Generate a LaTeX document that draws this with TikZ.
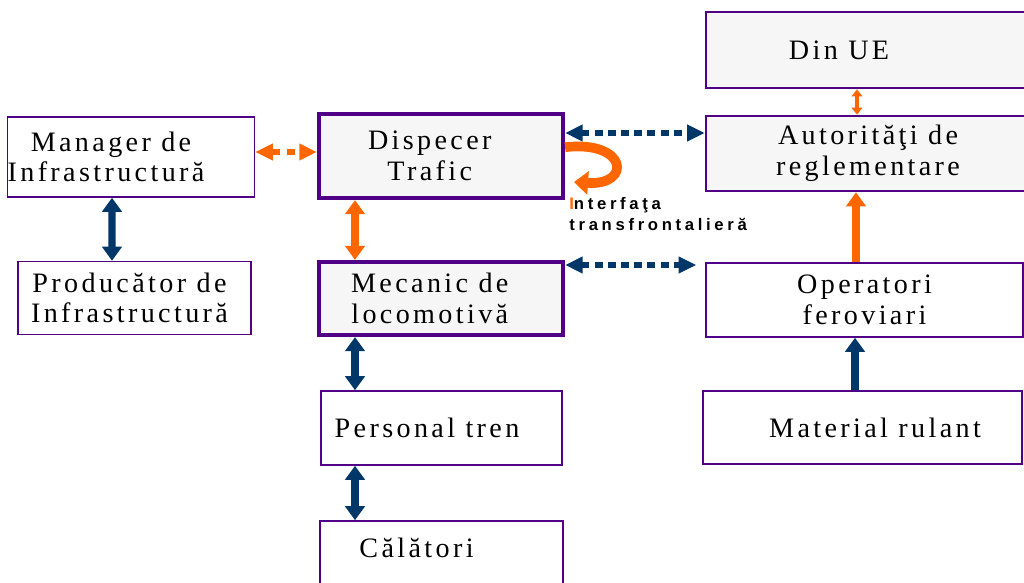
\documentclass[tikz,border=0pt]{standalone}
\usepackage{fontspec}
\setmainfont{Liberation Serif}[LetterSpace=12]
\newfontfamily\ifacefont{Liberation Sans}[LetterSpace=22]
\usetikzlibrary{arrows.meta}

\definecolor{boxpurple}{RGB}{80,0,135}
\definecolor{boxgray}{RGB}{246,246,246}
\definecolor{arrnavy}{RGB}{0,55,105}
\definecolor{arrorange}{RGB}{255,102,0}

\tikzset{
  box/.style={draw=boxpurple, line width=0.9pt, fill=white, rectangle, align=center,
    inner sep=0pt, font=\fontsize{16}{17.5}\selectfont},
  boldbox/.style={box, line width=2.4pt, fill=boxgray},
  greybox/.style={box, line width=1.5pt, fill=boxgray},
  bigarrow/.style={line width=4pt, {Triangle[width=11pt,length=8pt]}-{Triangle[width=11pt,length=8pt]}},
  uparrow/.style={line width=4pt, -{Triangle[width=11pt,length=8pt]}},
  dotarrow/.style={line width=3.2pt, dash pattern=on 4.5pt off 3pt,
    {Triangle[width=9pt,length=10pt]}-{Triangle[width=9pt,length=10pt]}},
}

\begin{document}
\begin{tikzpicture}[x=0.02cm, y=-0.02cm]
\clip (0,0) rectangle (1024,582);
\fill[white] (0,0) rectangle (1024,582);

% left column
\node[box, minimum width=4.92cm, minimum height=1.6cm] (mgr) at (131,157) {Manager de\hspace*{0.8cm}\\Infrastructură\hspace*{1cm}};
\node[box, minimum width=4.66cm, minimum height=1.46cm] (prod) at (134.5,298) {Producător de\hspace*{0.2cm}\\Infrastructură\hspace*{0.2cm}};

% middle column
\node[boldbox, minimum width=4.88cm, minimum height=1.68cm] (disp) at (441,156) {Dispecer\hspace*{0.45cm}\\Trafic\hspace*{0.45cm}};
\node[boldbox, minimum width=4.88cm, minimum height=1.46cm] (mec) at (441,298.5) {Mecanic de\hspace*{0.45cm}\\locomotivă\hspace*{0.45cm}};
\node[box, minimum width=4.82cm, minimum height=1.48cm] (pers) at (441.5,428) {Personal tren\hspace*{0.58cm}};
\node[box, minimum width=4.86cm, minimum height=1.6cm, text depth=0.55cm] (cal) at (441.5,561) {Călători\hspace*{1cm}};

% right column
\node[greybox, minimum width=6.48cm, minimum height=1.52cm] (ue) at (868,50) {Din UE\hspace*{1.16cm}};
\node[greybox, minimum width=6.48cm, minimum height=1.5cm] (aut) at (868,153.5) {Autorităţi de\\reglementare};
\node[box, minimum width=6.34cm, minimum height=1.48cm] (op) at (864.5,300) {Operatori\\feroviari};
\node[box, minimum width=6.38cm, minimum height=1.46cm] (mat) at (862.5,427.5) {\hspace*{0.5cm}Material rulant};

% links
\draw[dotarrow, arrorange, dash pattern=on 4.5pt off 4.5pt] (mgr.east |- 0,152) -- (disp.west |- 0,152);
\draw[bigarrow, arrnavy] ([xshift=-0.38cm]mgr.south) -- ([xshift=-0.45cm]prod.north);
\draw[bigarrow, arrorange] (disp.south -| 355,0) -- (mec.north -| 355,0);
\draw[bigarrow, arrnavy] (mec.south -| 355,0) -- (pers.north -| 355,0);
\draw[bigarrow, arrnavy] (pers.south -| 355,0) -- (cal.north -| 355,0);
\draw[dotarrow, arrnavy] (disp.east |- 0,133) -- (aut.west |- 0,133);
\draw[dotarrow, arrnavy] (mec.east |- 0,265) -- ([xshift=-0.18cm]op.west |- 0,265);
\draw[line width=1.8pt, arrorange, {Triangle[width=6pt,length=4pt]}-{Triangle[width=6pt,length=4pt]}] (ue.south -| 857,0) -- (aut.north -| 857,0);
\draw[uparrow, arrorange] (op.north -| 856,0) -- (aut.south -| 856,0);
\draw[uparrow, arrnavy] (mat.north -| 855,0) -- (op.south -| 855,0);

% cross-border loop
\draw[line width=5.5pt, arrorange, -{Triangle[width=13pt,length=8pt]}]
  ([yshift=5pt]disp.east) .. controls (628,140) and (632,186) .. (574,182);
\node[anchor=north west, align=left, inner sep=0pt, font=\ifacefont\bfseries\fontsize{9.5}{12}\selectfont] (iface) at (569,197)
  {\textcolor{arrorange}{I}nterfaţa\\transfrontalieră};
\end{tikzpicture}
\end{document}
